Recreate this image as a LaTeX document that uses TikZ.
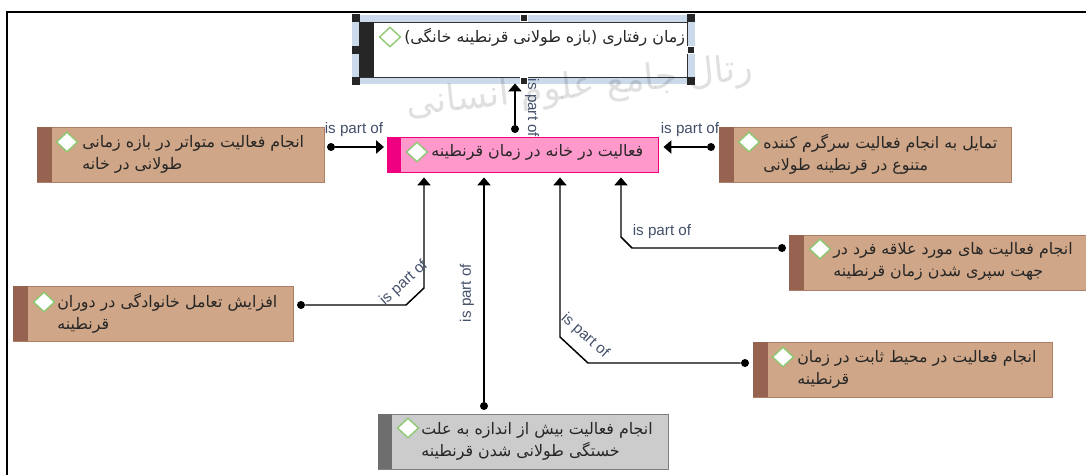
\documentclass[tikz,border=0pt]{standalone}
\usepackage{fontspec}
\setmainfont{Liberation Sans}
\newfontfamily\farsifont[Script=Arabic]{DejaVu Sans}
\TeXXeTstate=1
\newcommand{\faline}[1]{\beginR#1\endR}
\usetikzlibrary{arrows.meta, shapes.geometric}
\definecolor{browntan}{HTML}{CFA687}
\definecolor{brownbar}{HTML}{95634F}
\definecolor{brownline}{HTML}{AE7F66}
\definecolor{pinkfill}{HTML}{FF99CC}
\definecolor{pinkbar}{HTML}{EE0080}
\definecolor{greyfill}{HTML}{CCCCCC}
\definecolor{greybar}{HTML}{6E6E6E}
\definecolor{selband}{HTML}{CADAEA}
\definecolor{markgreen}{HTML}{8CC870}
\definecolor{partcolor}{HTML}{44506A}
\tikzset{
    box/.style={rectangle, anchor=north west, inner sep=0pt, line width=1.1pt},
    brownbox/.style={box, draw=brownline, fill=browntan},
    greenmark/.style={diamond, draw=markgreen, fill=white, line width=1pt, inner sep=0pt, minimum width=16pt, minimum height=15pt},
    boxtext/.style={anchor=west, align=left, inner sep=0pt, text=black!85, font=\farsifont\fontsize{11.9}{16.5}\selectfont},
    partlabel/.style={inner sep=0pt, text=partcolor, font=\fontsize{11.4}{12}\selectfont},
    partdot/.style={circle, fill=black, inner sep=0pt, minimum size=6pt},
    partline/.style={line width=1.1pt, -{Triangle[length=6pt, width=10pt]}},
    handle/.style={rectangle, fill=black!85, inner sep=0pt, minimum size=5.5pt},
    midhandle/.style={handle, draw=white, line width=1pt}
}
\begin{document}
\begin{tikzpicture}[x=.75pt, y=-.75pt]
    \useasboundingbox (0, 0) rectangle (1086, 475);
    \draw[line width=1pt](7, 475)--(7, 12)--(1086, 12);
    % selected box on top
    \fill[selband](352, 15)rectangle(695, 84);
    \node[box, draw=black!80, fill=white, minimum width=246pt, minimum height=41.25pt](topbox) at (359, 22){};
    \fill[black!85](topbox.north west)rectangle(374, 77);
    \node[handle](hnw) at (356, 18){};
    \node[midhandle](hn) at (524, 18){};
    \node[handle](hne) at (691, 18){};
    \node[handle](hw) at (356, 50){};
    \node[midhandle](he) at (691, 50){};
    \node[handle](hsw) at (356, 81){};
    \node[midhandle](hs) at (524, 81){};
    \node[handle](hse) at (691, 81){};
    \node[greenmark](topmark) at (390, 37){};
    \node[boxtext](toptext) at (404, 37){\faline{زمان رفتاری (بازه طولانی قرنطینه خانگی)}};
    % faint stamp behind the drawing
    \node[text=black, opacity=.12, inner sep=0pt, rotate=6, font=\farsifont\fontsize{27}{30}\selectfont](stamp) at (580, 88){\faline{رتال جامع علوم انسانی}};
    % centre box
    \node[box, draw=pinkbar, fill=pinkfill, minimum width=203.25pt, minimum height=26.25pt](centre) at (387, 137){};
    \fill[pinkbar](centre.north west)rectangle(401, 172);
    \node[greenmark](centremark) at (417, 152){};
    \node[boxtext](centretext) at (431, 152){\faline{فعالیت در خانه در زمان قرنطینه}};
    % outer boxes
    \node[brownbox, minimum width=215.25pt, minimum height=41.25pt](leftone) at (37, 127){};
    \fill[brownbar](leftone.north west)rectangle(52, 182);
    \node[greenmark](leftonemark) at (67, 142){};
    \node[boxtext](leftonetext) at (82, 154){\faline{انجام فعالیت متواتر در بازه  زمانی}\\\faline{طولانی در خانه}};
    \node[brownbox, minimum width=210pt, minimum height=41.25pt](lefttwo) at (13, 286){};
    \fill[brownbar](lefttwo.north west)rectangle(28, 341);
    \node[greenmark](lefttwomark) at (44, 302){};
    \node[boxtext](lefttwotext) at (57, 313){\faline{افزایش تعامل خانوادگی در دوران}\\\faline{قرنطینه}};
    \node[brownbox, minimum width=219pt, minimum height=41.25pt](rightone) at (719, 127){};
    \fill[brownbar](rightone.north west)rectangle(734, 182);
    \node[greenmark](rightonemark) at (749, 142){};
    \node[boxtext](rightonetext) at (763, 154){\faline{تمایل به انجام فعالیت سرگرم کننده}\\\faline{متنوع در قرنطینه طولانی}};
    \node[brownbox, minimum width=222.75pt, minimum height=41.25pt](righttwo) at (789, 235){};
    \fill[brownbar](righttwo.north west)rectangle(804, 290);
    \node[greenmark](righttwomark) at (820, 249){};
    \node[boxtext](righttwotext) at (833, 261){\faline{انجام فعالیت های مورد علاقه فرد در}\\\faline{جهت سپری شدن زمان قرنطینه}};
    \node[brownbox, minimum width=224.25pt, minimum height=41.25pt](rightthree) at (753, 342){};
    \fill[brownbar](rightthree.north west)rectangle(768, 397);
    \node[greenmark](rightthreemark) at (783, 357){};
    \node[boxtext](rightthreetext) at (797, 369){\faline{انجام فعالیت در محیط ثابت در زمان}\\\faline{قرنطینه}};
    \node[box, draw=black!50, fill=greyfill, minimum width=217.5pt, minimum height=41.25pt](bottombox) at (378, 414){};
    \fill[greybar](bottombox.north west)rectangle(392, 469);
    \node[greenmark](bottommark) at (408, 428){};
    \node[boxtext](bottomtext) at (421, 441){\faline{انجام فعالیت بیش از اندازه به علت}\\\faline{خستگی طولانی شدن قرنطینه}};
    % dots and connectors
    \node[partdot](topdot) at (515, 129){};
    \node[partdot](leftonedot) at (331, 147){};
    \node[partdot](rightonedot) at (711, 147){};
    \node[partdot](lefttwodot) at (301, 305){};
    \node[partdot](bottomdot) at (484, 406){};
    \node[partdot](rightthreedot) at (745, 363){};
    \node[partdot](righttwodot) at (782, 248){};
    \draw[partline, shorten >=3.75pt](topdot)--(topdot |- topbox.south);
    \draw[partline, shorten >=2.25pt](leftonedot)--(leftonedot -| centre.west);
    \draw[partline, shorten >=3pt](rightonedot)--(rightonedot -| centre.east);
    \draw[partline, shorten >=3pt](lefttwodot)--(406, 305)--(424, 288)--(424, 288 |- centre.south);
    \draw[partline, shorten >=3pt](bottomdot)--(bottomdot |- centre.south);
    \draw[partline, shorten >=3pt](rightthreedot)--(588, 363)--(560, 337)--(560, 337 |- centre.south);
    \draw[partline, shorten >=3pt](righttwodot)--(632, 248)--(621, 237)--(621, 237 |- centre.south);
    % labels
    \node[partlabel, rotate=-90](toplabel) at (532, 108){is part of};
    \node[partlabel](leftonelabel) at (354, 130){is part of};
    \node[partlabel](rightonelabel) at (690, 130){is part of};
    \node[partlabel, rotate=42](lefttwolabel) at (404, 283){is part of};
    \node[partlabel, rotate=90](bottomlabel) at (467, 293){is part of};
    \node[partlabel, rotate=-42](rightthreelabel) at (585, 336){is part of};
    \node[partlabel](righttwolabel) at (662, 232){is part of};
\end{tikzpicture}
\end{document}
